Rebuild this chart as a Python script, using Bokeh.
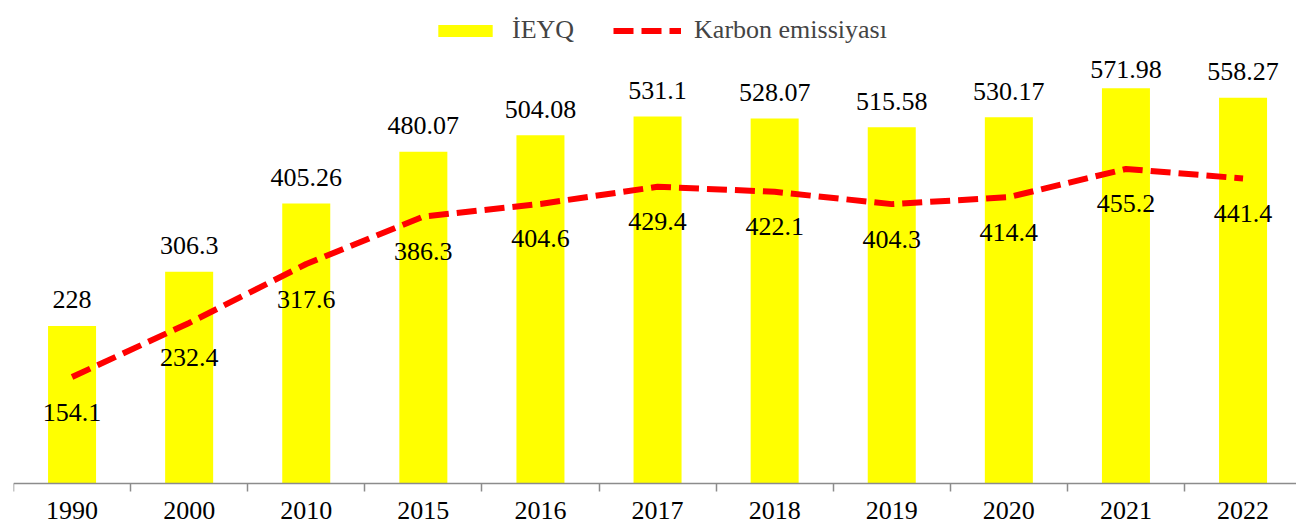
from bokeh.plotting import figure
from bokeh.models import Range1d, FixedTicker, Legend, LegendItem, Label
from bokeh.embed import file_html
from bokeh.resources import INLINE
import numpy as np

# ---- data ----
years = ["1990", "2000", "2010", "2015", "2016", "2017", "2018", "2019", "2020", "2021", "2022"]
ieyq = [228, 306.3, 405.26, 480.07, 504.08, 531.1, 528.07, 515.58, 530.17, 571.98, 558.27]
karbon = [154.1, 232.4, 317.6, 386.3, 404.6, 429.4, 422.1, 404.3, 414.4, 455.2, 441.4]

FONT = "Liberation Serif"
FS = "26px"
x = list(range(len(years)))

W, H = 1296, 523
ML, MR, MT, MB = 13, 0, 2, 0
BASE = 483                     # pixel row of the category axis
frame_w = W - ML - MR
px_per_cat = 117.1
px_per_unit = 0.691
x_end = -0.5 + frame_w / px_per_cat
y_end = (BASE - MT) / px_per_unit
y_start = -(H - BASE) / px_per_unit

p = figure(width=W, height=H, x_range=Range1d(-0.5, x_end), y_range=Range1d(y_start, y_end),
           output_backend="svg", toolbar_location=None, y_axis_location=None,
           min_border_left=ML, min_border_right=MR, min_border_top=MT, min_border_bottom=MB)
p.outline_line_color = None
p.xgrid.visible = False
p.ygrid.visible = False
p.background_fill_color = "white"
p.border_fill_color = "white"

# x axis at value 0: labels at category centres, ticks at category boundaries
ax = p.xaxis[0]
ax.fixed_location = 0
ax.ticker = FixedTicker(ticks=x, minor_ticks=[i - 0.5 for i in range(len(years) + 1)])
ax.major_label_overrides = {i: yr for i, yr in enumerate(years)}
ax.axis_line_color = "#8c8c8c"
ax.axis_line_width = 1.5
ax.major_tick_line_color = None
ax.major_tick_in = 0
ax.major_tick_out = 0
ax.minor_tick_line_color = "#8c8c8c"
ax.minor_tick_line_width = 1.5
ax.minor_tick_in = 0
ax.minor_tick_out = 8
ax.major_label_standoff = 10
ax.major_label_text_font = FONT
ax.major_label_text_font_size = FS
ax.major_label_text_color = "black"

bars = p.vbar(x=x, top=ieyq, width=0.41, fill_color="#FFFF00", line_color=None)
line = p.line(x, karbon, line_color="#FF0000", line_width=6, line_dash="20 8")

# bar value labels (kept inside the plot area at the top)
LABEL_GAP_PX = 26
bar_lbl_y = np.minimum(np.array(ieyq) + LABEL_GAP_PX / px_per_unit, 599)
for xi, yi, v in zip(x, bar_lbl_y, ieyq):
    p.add_layout(Label(x=xi, y=float(yi), text=f"{v:g}", text_align="center",
                       text_baseline="alphabetic", text_font=FONT,
                       text_font_size=FS, text_color="black"))

# line value labels, below each point
LINE_GAP_PX = 35
for xi, v in zip(x, karbon):
    p.add_layout(Label(x=xi, y=v - LINE_GAP_PX / px_per_unit, text=f"{v:g}",
                       text_align="center", text_baseline="middle", text_font=FONT,
                       text_font_size=FS, text_color="black"))

legend = Legend(items=[LegendItem(label="İEYQ", renderers=[bars]),
                       LegendItem(label="Karbon emissiyası", renderers=[line])],
                orientation="horizontal", location=(418, 478),
                glyph_width=68, glyph_height=15, label_standoff=13, spacing=39,
                padding=0, margin=0, border_line_alpha=0, background_fill_alpha=0,
                label_text_font=FONT, label_text_font_size=FS, label_height=15)
p.add_layout(legend, "center")

open("out.html", "w").write(file_html(p, INLINE))
